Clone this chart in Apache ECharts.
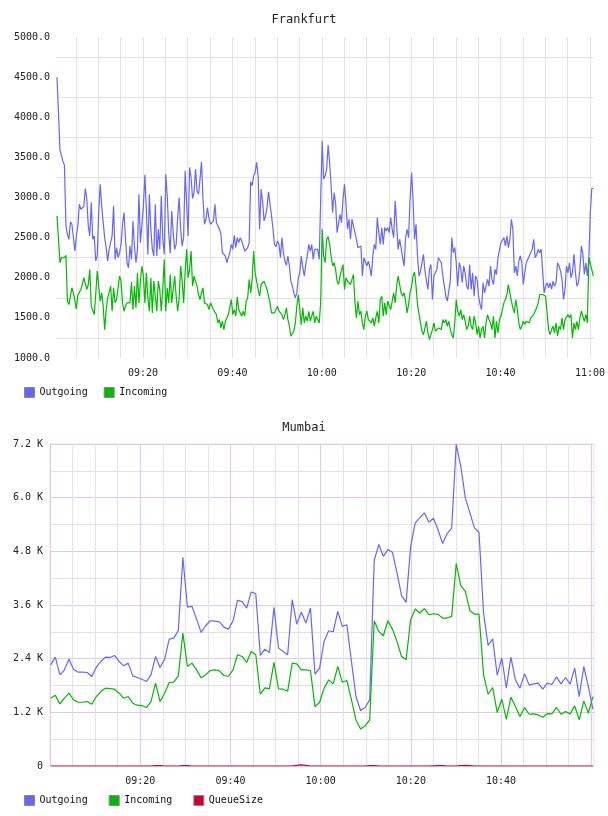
<!DOCTYPE html>
<html><head><meta charset="utf-8">
<script src="https://cdn.jsdelivr.net/npm/echarts@6/dist/echarts.min.js"></script>
<style>html,body{margin:0;padding:0;background:#fff}#c{width:608px;height:816px}</style>
</head><body><div id="c"></div>
<script>
const FONT = '"DejaVu Sans Mono", monospace';
const FRA_TITLE = 'Frankfurt';
const MUM_TITLE = 'Mumbai';
const FRA_LEGEND = ['Outgoing', 'Incoming'];
const MUM_LEGEND = ['Outgoing', 'Incoming', 'QueueSize'];

// time in minutes after 09:00
const FRA_START_MIN = 0.75, FRA_STEP_MIN = 1 / 3;
const MUM_START_MIN = 1 / 6, MUM_STEP_MIN = 1.01;
const X_GRID_MIN = [0,5,10,15,20,25,30,35,40,45,50,55,60,65,70,75,80,85,90,95,100,105,110,115,120];
const FRA_X_LABELS = [20,40,60,80,100,120];
const MUM_X_LABELS = [20,40,60,80,100];

const FRA_OUT = [
4500,4050,3588,3525,3450,3400,2650,2541,2479,2696,
2667,2670,2333,2521,2646,2916,2854,2866,2887,3112,
2979,2646,2521,2937,2479,2521,2208,2271,2812,3166,
2896,2687,2500,2375,2208,2354,2375,2521,2896,2229,
2375,2250,2312,2416,2666,2812,2479,2187,2125,2396,
2229,2708,2396,2187,2354,3041,2437,2437,2896,3283,
2833,2291,3041,2604,2354,2271,2916,2271,2604,2354,
3021,2479,2291,3291,3021,2562,2304,2833,2562,2354,
2416,2750,2999,2604,2396,2500,3333,2937,
2521,3375,3250,2987,3062,3354,3083,3041,3229,3446,
2979,2666,2729,2875,2737,2666,2646,2708,2916,2687,
2646,2604,2554,2312,2304,2271,2187,2250,2312,2416,
2354,
2529,2375,2500,2437,2500,2458,2396,2333,2346,2375,2437,
3196,3146,3271,3312,3437,3271,2604,3104,2958,2708,2771,2875,3071,2916,2771,2604,2416,2387,2458,2416,
2250,2500,2312,2208,2154,2271,2146,
1958,1896,1812,1750,1812,2000,2062,2271,2125,2021,
2166,2271,2416,2333,2416,2229,2354,2375,2354,2229,2250,
3708,3229,3271,3354,3654,3437,3146,2812,3062,2937,
2562,2562,2791,2687,2979,3166,2916,2604,2729,
2479,2729,2646,2562,2479,2375,2396,2396,2021,
2250,2229,2146,2208,2125,2021,2271,2416,2354,
2750,2562,2416,2625,2416,2625,2583,2625,2562,
2750,2604,2500,2958,2966,2354,2479,2375,2250,
2146,2500,2604,2500,2979,3312,2979,2479,2666,
2271,2021,2083,2062,2291,2083,1958,1854,2104,
2166,1729,2021,2062,2104,2250,2271,2187,2021,
1896,1770,1708,1729,1958,2500,2312,2375,2187,
1896,2187,2125,1937,2146,2062,1896,1854,2166,
1854,2062,1770,2021,1979,1770,1666,1604,1937,
1812,1896,1979,1896,2146,1979,1916,2104,2041,
2250,2229,2437,2416,2500,2396,2521,2375,2479,
2729,2604,2062,2146,2021,2208,2271,2187,1916,
2062,2187,2187,2271,2250,2354,2479,2250,2291,
2354,2312,2354,2333,1812,1896,1937,1875,1937,1854,
1958,1896,1937,2187,2146,2083,1979,1729,1854,2146,
2062,2187,2000,2062,2291,2062,1896,1937,2104,2396,
2291,2041,2187,2021,2229,2812,3112,3112
];

const FRA_IN = [
2771,2479,2187,2250,2237,2250,2279,1708,1666,1658,
1875,1812,1825,1612,1783,1791,1854,1916,2000,
1979,1854,1916,2104,1646,1646,1541,1791,2083,
1896,1708,1812,1646,1354,1604,1750,1770,1896,
1583,1875,1687,1729,1729,2021,1958,1687,1583,
1646,1687,1708,1687,1946,1604,1896,1625,2062,
1687,1958,2146,2021,1687,2062,1750,1583,2000,
1562,1958,1770,1583,1958,1854,1583,1854,2229,
1583,1875,1687,2041,1687,1666,2021,1770,1583,
1750,2146,1958,1687,2062,2354,2000,2104,2333,
1896,2021,2041,1896,1791,1729,1812,1875,1687,
1708,1666,1604,1687,1646,1604,1583,1541,1437,
1479,1375,1458,1354,1458,1437,1541,1521,1729,
1541,1604,1521,1762,1604,1562,1521,1583,1521,
1708,1750,1979,1812,1979,2333,2062,1958,1854,
1770,1916,1896,1958,1937,1854,1770,1687,1562,
1583,1562,1604,1646,1583,1604,1541,1479,1541,
1625,1479,1396,1271,1250,1333,1437,1646,1791,
1604,1416,1625,1437,1521,1458,1583,1458,1521,1583,
1437,1521,1541,1437,1687,2604,
2271,2187,2479,2512,2416,2271,2146,2187,2104,
1958,1916,2021,2000,2166,1854,2000,1958,1979,
1916,1979,2041,1687,1500,1708,1541,1583,1437,
1354,1521,1583,1479,1458,1437,1500,1396,1500,
1583,1437,1729,1770,1521,1687,1541,1708,1729,
1604,1708,1812,1687,1896,2021,2000,1812,1770,
1812,1708,1562,1666,1812,1896,2021,2071,1896,
1666,1687,1437,1333,1291,1312,1458,1312,1229,
1250,1354,1437,1333,1312,1375,1396,1354,1479,
1437,1479,1396,1458,1354,1291,1250,1437,1729,
1583,1521,1604,1479,1541,1458,1354,1396,1521,
1396,1354,1521,1437,1291,1396,1250,1354,1396,
1250,1437,1541,1479,1437,1354,1521,1250,1458,
1312,1479,1521,1604,1687,1729,1791,1916,1812,
1708,1625,1562,1729,1604,1437,1354,1396,1458,
1416,1458,1479,1437,1500,1521,1541,1562,1625,
1687,1791,1812,1791,1812,1770,1791,1354,1291,
1354,1396,1312,1437,1271,1396,1354,1500,1354,
1479,1458,1541,1500,1541,1250,1437,1354,1458,
1354,1500,1583,1562,1458,1541,1437,2250,2250,
2100,2021
];

const MUM_OUT = [
2262,2434,2038,2150,2389,2165,2098,2098,2091,2001,
2210,2337,2434,2427,2472,2337,2240,2300,2016,1979,
1941,1889,2038,2449,2203,2389,2837,2860,3032,4667,
3554,3569,3285,2987,3136,3248,3241,3226,3106,3061,
3241,3704,3674,3532,3890,3853,2472,2613,2539,3547,
2636,2561,2487,3719,3173,3442,3196,3532,2053,2188,
2785,3024,3002,3457,3121,3159,2337,1553,1240,1307,
1478,4600,4951,4689,4839,4779,4316,3808,3659,4913,
5436,5548,5660,5451,5541,5287,4973,5197,5317,7191,
6705,5996,5660,5324,5227,3420,2696,2845,2031,2412,
1740,2434,1926,1740,2061,1814,1837,1852,1717,1852,
1822,1994,1837,1979,1829,2188,1553,2225,1777,1269
];
const MUM_IN = [
1516,1583,1389,1516,1628,1478,1426,1426,1441,1381,
1553,1665,1740,1732,1717,1628,1516,1553,1404,1359,
1352,1307,1441,1852,1441,1628,1867,1874,2016,2972,
2225,2300,2150,1971,2038,2136,2150,2128,2024,2001,
2150,2487,2449,2315,2561,2487,1605,1747,1725,2315,
1725,1717,1673,2300,2285,2150,2150,2136,1329,1420,
1740,1926,1837,2225,1874,1912,1478,1030,829,896,
1030,3248,3009,2912,3248,3061,2785,2449,2375,3271,
3509,3420,3517,3383,3405,3390,3308,3308,3345,4525,
4032,3905,3472,3398,3398,2038,1605,1755,1195,1493,
1045,1538,1329,1105,1307,1157,1165,1142,1090,1172,
1165,1314,1157,1217,1165,1344,1030,1456,1180,1553
];
const MUM_QUEUE = [
0,0,0,0,0,0,0,0,0,0,
0,0,0,0,0,0,0,0,0,0,
0,0,0,8,10,0,0,0,0,8,
10,0,0,0,0,0,0,0,0,0,
0,0,0,0,0,0,0,0,0,0,
0,0,0,0,15,25,12,0,0,0,
0,0,0,0,0,0,0,0,0,0,
8,10,0,0,0,0,0,0,0,0,
0,0,0,0,5,8,8,0,0,0,
10,12,8,0,0,0,0,0,0,0,
0,0,0,0,0,0,0,0,0,0,
0,0,0,0,0,0,0,0,0,0
];

const COLORS = { out: '#6666ff', inc: '#00bb00', queue: '#cc0033' };
const GRID_GREY = '#e3e3e3', GRID_PINK = '#e4c8e4';

function pad(n) { return (n < 10 ? '0' : '') + n; }
function fmtTime(m) { const t = Math.round(m); return pad(9 + Math.floor(t / 60)) + ':' + pad(t % 60); }
function toPairs(arr, start, step) { return arr.map((v, i) => [start + i * step, v]); }

const chart = echarts.init(document.getElementById('c'), null, { renderer: 'canvas' });
const labelStyle = { fontFamily: FONT, fontSize: 10, color: '#222' };
const lineSeries = (name, color, data, idx, z) => ({
  name, type: 'line', xAxisIndex: idx, yAxisIndex: idx, data, color,
  showSymbol: false, symbol: 'none', animation: false, z: z || 2,
  lineStyle: { color, width: 1.2 }
});

chart.setOption({
  animation: false,
  title: [
    { text: FRA_TITLE, left: 'center', top: 14, padding: 0, textStyle: { fontFamily: FONT, fontSize: 12, fontWeight: 'normal', color: '#222' } },
    { text: MUM_TITLE, left: 'center', top: 422, padding: 0, textStyle: { fontFamily: FONT, fontSize: 12, fontWeight: 'normal', color: '#222' } }
  ],
  legend: [
    { data: FRA_LEGEND, left: 24, top: 387, padding: 0, icon: 'rect', itemWidth: 10, itemHeight: 10, itemGap: 16,
      textStyle: { fontFamily: FONT, fontSize: 10, color: '#111' }, itemStyle: { borderColor: '#888', borderWidth: 1 } },
    { data: MUM_LEGEND, left: 24, top: 795, padding: 0, icon: 'rect', itemWidth: 10, itemHeight: 10, itemGap: 21,
      textStyle: { fontFamily: FONT, fontSize: 10, color: '#111' }, itemStyle: { borderColor: '#888', borderWidth: 1 } }
  ],
  grid: [
    { left: 57, top: 37, width: 537, height: 321, show: false },
    { left: 50, top: 444, width: 544, height: 322, show: true, borderColor: '#eddbed', borderWidth: 1 }
  ],
  xAxis: [
    { gridIndex: 0, type: 'value', min: 0.75, max: 120.75,
      axisLine: { show: false }, axisTick: { show: false, customValues: X_GRID_MIN },
      axisLabel: { customValues: FRA_X_LABELS, formatter: fmtTime, margin: 10, ...labelStyle },
      splitLine: { show: true, lineStyle: { color: GRID_GREY, width: 1 } } },
    { gridIndex: 1, type: 'value', min: 0, max: 120.6,
      axisLine: { show: false }, axisTick: { show: false, customValues: X_GRID_MIN },
      axisLabel: { customValues: MUM_X_LABELS, formatter: fmtTime, margin: 10, ...labelStyle },
      splitLine: { show: true, lineStyle: { color: [GRID_PINK, GRID_GREY, GRID_GREY, GRID_GREY], width: 1 } } }
  ],
  yAxis: [
    { gridIndex: 0, type: 'value', min: 1000, max: 5000, interval: 250,
      axisLine: { show: false }, axisTick: { show: false },
      axisLabel: { margin: 7, formatter: v => (v % 500 === 0 ? v.toFixed(1) : ''), ...labelStyle },
      splitLine: { show: true, lineStyle: { color: ['rgba(0,0,0,0)', GRID_GREY], width: 1 } } },
    { gridIndex: 1, type: 'value', min: 0, max: 7200, interval: 600,
      axisLine: { show: false }, axisTick: { show: false },
      axisLabel: { margin: 7, formatter: v => (v % 1200 !== 0 ? '' : (v === 0 ? '0' : (v / 1000).toFixed(1) + ' K')), ...labelStyle },
      splitLine: { show: true, lineStyle: { color: [GRID_PINK, GRID_GREY], width: 1 } } }
  ],
  series: [
    lineSeries('Outgoing', COLORS.out, toPairs(FRA_OUT, FRA_START_MIN, FRA_STEP_MIN), 0),
    lineSeries('Incoming', COLORS.inc, toPairs(FRA_IN, FRA_START_MIN, FRA_STEP_MIN), 0),
    lineSeries('Outgoing', COLORS.out, toPairs(MUM_OUT, MUM_START_MIN, MUM_STEP_MIN), 1),
    lineSeries('Incoming', COLORS.inc, toPairs(MUM_IN, MUM_START_MIN, MUM_STEP_MIN), 1),
    lineSeries('QueueSize', COLORS.queue, toPairs(MUM_QUEUE, MUM_START_MIN, MUM_STEP_MIN), 1, 3)
  ]
});
</script>
</body></html>
